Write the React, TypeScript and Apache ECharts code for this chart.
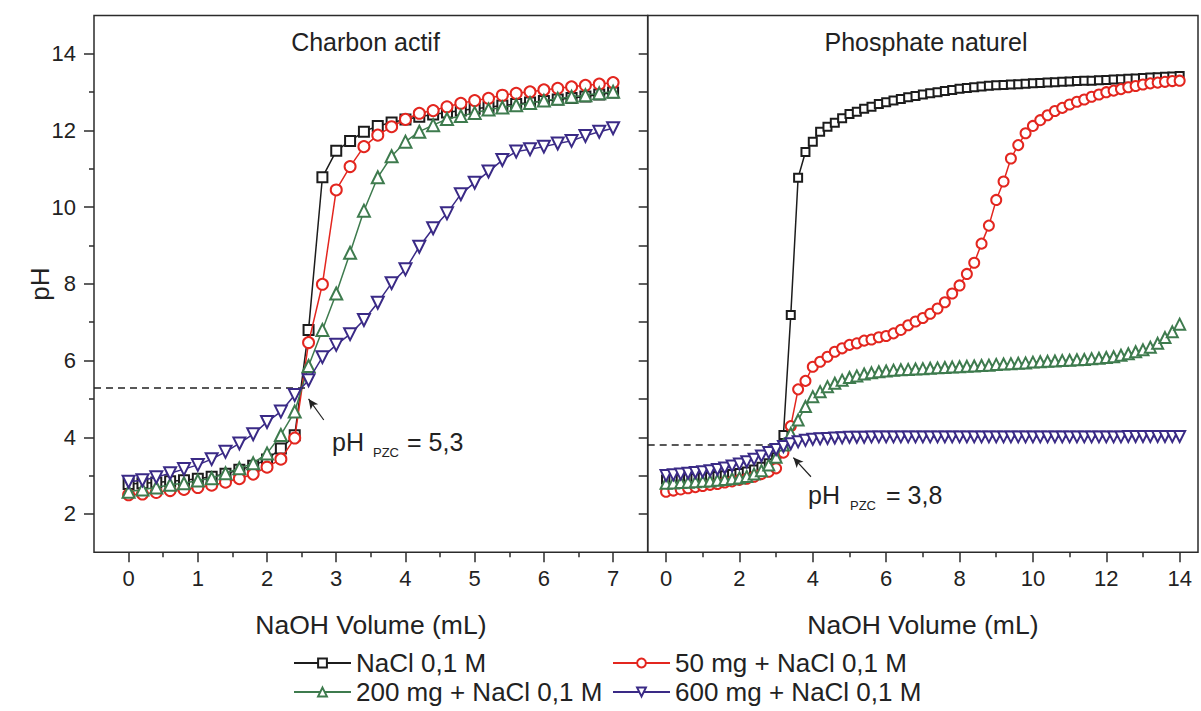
import React, { useEffect, useRef } from "react";
import * as echarts from "echarts";

// ---------- data ----------
const leftVolume = [0, 0.2, 0.4, 0.6, 0.8, 1, 1.2, 1.4, 1.6, 1.8, 2, 2.2, 2.4, 2.6, 2.8, 3, 3.2, 3.4, 3.6, 3.8, 4, 4.2, 4.4, 4.6, 4.8, 5, 5.2, 5.4, 5.6, 5.8, 6, 6.2, 6.4, 6.6, 6.8, 7];

const leftNaCl = [2.78, 2.80, 2.82, 2.85, 2.88, 2.92, 2.97, 3.05, 3.15, 3.26, 3.42, 3.71, 4.05, 6.80, 10.78, 11.47, 11.73, 11.97, 12.12, 12.21, 12.29, 12.36, 12.42, 12.47, 12.52, 12.57, 12.61, 12.65, 12.69, 12.73, 12.77, 12.81, 12.85, 12.89, 12.94, 12.99];
const left50mg = [2.50, 2.52, 2.56, 2.61, 2.64, 2.69, 2.75, 2.83, 2.92, 3.04, 3.22, 3.43, 3.98, 6.47, 7.99, 10.45, 11.06, 11.58, 11.88, 12.10, 12.29, 12.45, 12.52, 12.62, 12.71, 12.78, 12.84, 12.92, 12.97, 13.01, 13.06, 13.10, 13.14, 13.18, 13.21, 13.25];
const left200mg = [2.58, 2.64, 2.69, 2.76, 2.80, 2.87, 2.93, 3.06, 3.19, 3.32, 3.58, 4.06, 4.67, 5.86, 6.80, 7.75, 8.81, 9.91, 10.78, 11.33, 11.71, 11.97, 12.14, 12.30, 12.38, 12.46, 12.55, 12.60, 12.66, 12.72, 12.78, 12.83, 12.88, 12.92, 12.97, 13.01];
const left600mg = [2.84, 2.88, 2.96, 3.06, 3.17, 3.28, 3.43, 3.62, 3.84, 4.08, 4.40, 4.67, 5.10, 5.49, 6.09, 6.41, 6.69, 7.06, 7.51, 8.02, 8.38, 8.97, 9.45, 9.84, 10.34, 10.64, 10.93, 11.23, 11.45, 11.51, 11.58, 11.66, 11.73, 11.86, 11.97, 12.06];

const rightVolume = [0, 0.2, 0.4, 0.6, 0.8, 1, 1.2, 1.4, 1.6, 1.8, 2, 2.2, 2.4, 2.6, 2.8, 3, 3.2, 3.4, 3.6, 3.8, 4, 4.2, 4.4, 4.6, 4.8, 5, 5.2, 5.4, 5.6, 5.8, 6, 6.2, 6.4, 6.6, 6.8, 7, 7.2, 7.4, 7.6, 7.8, 8, 8.2, 8.4, 8.6, 8.8, 9, 9.2, 9.4, 9.6, 9.8, 10, 10.2, 10.4, 10.6, 10.8, 11, 11.2, 11.4, 11.6, 11.8, 12, 12.2, 12.4, 12.6, 12.8, 13, 13.2, 13.4, 13.6, 13.8, 14];

const rightNaCl = [2.90, 2.91, 2.92, 2.93, 2.94, 2.96, 2.97, 2.99, 3.01, 3.04, 3.07, 3.11, 3.16, 3.23, 3.32, 3.48, 4.06, 7.19, 10.77, 11.44, 11.71, 11.97, 12.10, 12.20, 12.32, 12.43, 12.49, 12.57, 12.62, 12.69, 12.74, 12.78, 12.82, 12.87, 12.90, 12.94, 12.97, 13.00, 13.03, 13.06, 13.09, 13.11, 13.13, 13.15, 13.17, 13.18, 13.19, 13.20, 13.21, 13.22, 13.23, 13.24, 13.25, 13.26, 13.27, 13.28, 13.29, 13.30, 13.30, 13.31, 13.32, 13.33, 13.34, 13.35, 13.36, 13.37, 13.38, 13.39, 13.40, 13.41, 13.42];
const right50mg = [2.58, 2.61, 2.64, 2.67, 2.70, 2.73, 2.76, 2.78, 2.82, 2.85, 2.89, 2.92, 2.97, 3.04, 3.10, 3.19, 3.60, 4.29, 5.25, 5.47, 5.84, 5.97, 6.10, 6.23, 6.32, 6.41, 6.45, 6.52, 6.55, 6.61, 6.64, 6.71, 6.80, 6.92, 7.02, 7.11, 7.22, 7.36, 7.52, 7.75, 7.96, 8.26, 8.55, 9.05, 9.52, 10.19, 10.67, 11.27, 11.62, 11.93, 12.12, 12.27, 12.40, 12.51, 12.59, 12.68, 12.75, 12.81, 12.88, 12.94, 13.00, 13.04, 13.08, 13.13, 13.16, 13.20, 13.23, 13.25, 13.27, 13.29, 13.30];
const right200mg = [2.80, 2.81, 2.82, 2.83, 2.84, 2.85, 2.86, 2.88, 2.90, 2.92, 2.94, 2.98, 3.04, 3.13, 3.28, 3.48, 3.80, 4.10, 4.45, 4.80, 5.06, 5.19, 5.32, 5.41, 5.49, 5.56, 5.60, 5.65, 5.68, 5.71, 5.73, 5.75, 5.76, 5.77, 5.78, 5.79, 5.80, 5.81, 5.82, 5.83, 5.84, 5.85, 5.86, 5.87, 5.88, 5.90, 5.91, 5.92, 5.93, 5.94, 5.96, 5.97, 5.98, 5.99, 6.00, 6.01, 6.02, 6.03, 6.05, 6.06, 6.08, 6.10, 6.14, 6.18, 6.23, 6.28, 6.35, 6.45, 6.60, 6.75, 6.95];
const right600mg = [3.00, 3.02, 3.04, 3.06, 3.08, 3.10, 3.13, 3.16, 3.20, 3.25, 3.30, 3.36, 3.43, 3.51, 3.60, 3.68, 3.76, 3.83, 3.88, 3.92, 3.95, 3.96, 3.97, 3.98, 3.99, 4.00, 4.00, 4.00, 4.01, 4.01, 4.01, 4.01, 4.01, 4.01, 4.01, 4.01, 4.01, 4.01, 4.01, 4.01, 4.01, 4.01, 4.01, 4.01, 4.01, 4.01, 4.01, 4.01, 4.01, 4.01, 4.01, 4.01, 4.01, 4.01, 4.01, 4.01, 4.01, 4.01, 4.01, 4.01, 4.01, 4.01, 4.01, 4.02, 4.02, 4.02, 4.02, 4.02, 4.02, 4.02, 4.02];

const seriesNames = ["NaCl 0,1 M", "50 mg + NaCl 0,1 M", "200 mg + NaCl 0,1 M", "600 mg + NaCl 0,1 M"];
const panelTitles = ["Charbon actif", "Phosphate naturel"];
const xAxisTitle = "NaOH Volume (mL)";
const yAxisTitle = "pH";

// tick values
const leftXMajor = [0, 1, 2, 3, 4, 5, 6, 7];
const leftXMinor = [0.5, 1.5, 2.5, 3.5, 4.5, 5.5, 6.5];
const rightXMajor = [0, 2, 4, 6, 8, 10, 12, 14];
const rightXMinor = [1, 3, 5, 7, 9, 11, 13];
const yMajor = [2, 4, 6, 8, 10, 12, 14];
const yMinor = [3, 5, 7, 9, 11, 13];
const yAll = [2, 3, 4, 5, 6, 7, 8, 9, 10, 11, 12, 13, 14];

// point of zero charge annotations
const pzcLeft = 5.3;
const pzcRight = 3.8;

// ---------- style ----------
const FONT = "'Liberation Sans', Arial, Helvetica, sans-serif";
const INK = "#222222";
const AXIS = "#2b2b2b";
const COLORS = ["#1c1c1c", "#e3261f", "#3e7b4e", "#3a2a86"];
const SYMBOLS = ["rect", "circle", "triangle", "triangle"];
const ROTATE = [0, 0, 0, 180];
const LEFT_SIZE = [10, 11, 12, 12];
const RIGHT_SIZE = [8, 10, 11, 11];

const pair = (xs: number[], ys: number[]) => xs.map((x, i) => [x, ys[i]]);

function lineSeries(idx: number, xs: number[], ys: number[], xIdx: number, yIdx: number, sizes: number[]) {
  const color = COLORS[idx];
  return {
    type: "line",
    name: seriesNames[idx],
    xAxisIndex: xIdx,
    yAxisIndex: yIdx,
    data: pair(xs, ys),
    symbol: SYMBOLS[idx],
    symbolSize: sizes[idx],
    symbolRotate: ROTATE[idx],
    showSymbol: true,
    showAllSymbol: true,
    color,
    lineStyle: { color, width: 1.5 },
    itemStyle: { color: "#ffffff", borderColor: color, borderWidth: 2 },
    emphasis: { disabled: true },
    z: 2 + idx,
  };
}

function annotationSeries(xIdx: number, yIdx: number, pzc: number, dashEnd: number, arrowFrom: number[], arrowTo: number[]) {
  return {
    type: "line",
    name: "annot" + xIdx,
    xAxisIndex: xIdx,
    yAxisIndex: yIdx,
    data: [],
    silent: true,
    markLine: {
      silent: true,
      animation: false,
      label: { show: false },
      symbol: ["none", "none"],
      data: [
        [
          { coord: [-0.5, pzc], lineStyle: { type: [7, 5], color: "#222", width: 1.5 } },
          { coord: [dashEnd, pzc] },
        ],
        [
          { coord: arrowFrom, symbol: "none", lineStyle: { type: "solid", color: "#222", width: 1.2 } },
          { coord: arrowTo, symbol: "arrow", symbolSize: [7, 10] },
        ],
      ],
    },
  };
}

function xAxes(gridIndex: number, min: number, max: number, major: number[], minor: number[]) {
  return [
    {
      type: "value",
      gridIndex,
      min,
      max,
      position: "bottom",
      name: xAxisTitle,
      nameLocation: "middle",
      nameGap: 59,
      nameTextStyle: { fontSize: 26.5, color: INK, fontFamily: FONT },
      axisLine: { show: false, onZero: false },
      axisTick: { show: true, inside: false, length: 10, customValues: major, lineStyle: { color: AXIS, width: 1.5 } },
      axisLabel: { show: true, margin: 15, customValues: major, fontSize: 22, color: INK, fontFamily: FONT },
      splitLine: { show: false },
    },
    {
      type: "value",
      gridIndex,
      min,
      max,
      position: "bottom",
      offset: 0,
      axisLine: { show: false, onZero: false },
      axisTick: { show: true, inside: false, length: 5, customValues: minor, lineStyle: { color: AXIS, width: 1.5 } },
      axisLabel: { show: false },
      splitLine: { show: false },
    },
  ];
}

function buildOption() {
  const legendCommon = {
    itemWidth: 57,
    itemHeight: 11,
    itemGap: 0,
    padding: 0,
    selectedMode: false,
    textStyle: { fontSize: 26, color: INK, fontFamily: FONT, lineHeight: 28 },
  };
  return {
    animation: false,
    backgroundColor: "#ffffff",
    grid: [
      { left: 94, top: 15.5, width: 553.7, height: 536.8, show: true, borderColor: AXIS, borderWidth: 1.5, backgroundColor: "transparent" },
      { left: 647.7, top: 15.5, width: 550.3, height: 536.8, show: true, borderColor: AXIS, borderWidth: 1.5, backgroundColor: "transparent" },
    ],
    xAxis: [
      ...xAxes(0, -0.5, 7.5, leftXMajor, leftXMinor),
      ...xAxes(1, -0.5, 14.5, rightXMajor, rightXMinor),
    ],
    yAxis: [
      {
        type: "value",
        gridIndex: 0,
        min: 1,
        max: 15,
        position: "left",
        axisLine: { show: false, onZero: false },
        axisTick: { show: true, length: 10, customValues: yMajor, lineStyle: { color: AXIS, width: 1.5 } },
        axisLabel: { show: true, margin: 18, customValues: yMajor, fontSize: 22, color: INK, fontFamily: FONT },
        splitLine: { show: false },
      },
      {
        type: "value",
        gridIndex: 1,
        min: 1,
        max: 15,
        position: "left",
        axisLine: { show: false, onZero: false },
        axisTick: { show: true, length: 9, customValues: yAll, lineStyle: { color: AXIS, width: 1.5 } },
        axisLabel: { show: false },
        splitLine: { show: false },
      },
      {
        type: "value",
        gridIndex: 0,
        min: 1,
        max: 15,
        position: "left",
        offset: 0,
        axisLine: { show: false, onZero: false },
        axisTick: { show: true, length: 5, customValues: yMinor, lineStyle: { color: AXIS, width: 1.5 } },
        axisLabel: { show: false },
        splitLine: { show: false },
      },
    ],
    legend: [
      { ...legendCommon, left: 293, top: 649, data: [seriesNames[0]] },
      { ...legendCommon, left: 612, top: 649, data: [seriesNames[1]] },
      { ...legendCommon, left: 293, top: 678, data: [seriesNames[2]] },
      { ...legendCommon, left: 612, top: 678, data: [seriesNames[3]] },
    ],
    series: [
      lineSeries(0, leftVolume, leftNaCl, 0, 0, LEFT_SIZE),
      lineSeries(1, leftVolume, left50mg, 0, 0, LEFT_SIZE),
      lineSeries(2, leftVolume, left200mg, 0, 0, LEFT_SIZE),
      lineSeries(3, leftVolume, left600mg, 0, 0, LEFT_SIZE),
      lineSeries(0, rightVolume, rightNaCl, 2, 1, RIGHT_SIZE),
      lineSeries(1, rightVolume, right50mg, 2, 1, RIGHT_SIZE),
      lineSeries(2, rightVolume, right200mg, 2, 1, RIGHT_SIZE),
      lineSeries(3, rightVolume, right600mg, 2, 1, RIGHT_SIZE),
      annotationSeries(0, 0, pzcLeft, 2.55, [2.82, 4.45], [2.6, 5.0]),
      annotationSeries(2, 1, pzcRight, 3.45, [3.95, 2.97], [3.47, 3.47]),
    ],
    graphic: [
      { type: "text", x: 365.5, y: 42, style: { text: panelTitles[0], font: `25px ${FONT}`, fill: INK, align: "center", verticalAlign: "middle" } },
      { type: "text", x: 926, y: 42, style: { text: panelTitles[1], font: `25px ${FONT}`, fill: INK, align: "center", verticalAlign: "middle" } },
      { type: "text", x: 40, y: 284, rotation: Math.PI / 2, style: { text: yAxisTitle, font: `26px ${FONT}`, fill: INK, align: "center", verticalAlign: "middle" } },
      { type: "text", x: 332, y: 442, style: { text: "pH", font: `25px ${FONT}`, fill: INK, align: "left", verticalAlign: "middle" } },
      { type: "text", x: 373, y: 452, style: { text: "PZC", font: `13px ${FONT}`, fill: INK, align: "left", verticalAlign: "middle" } },
      { type: "text", x: 407, y: 442, style: { text: "= 5,3", font: `25px ${FONT}`, fill: INK, align: "left", verticalAlign: "middle" } },
      { type: "text", x: 808, y: 495, style: { text: "pH", font: `25px ${FONT}`, fill: INK, align: "left", verticalAlign: "middle" } },
      { type: "text", x: 850, y: 505, style: { text: "PZC", font: `13px ${FONT}`, fill: INK, align: "left", verticalAlign: "middle" } },
      { type: "text", x: 886, y: 495, style: { text: "= 3,8", font: `25px ${FONT}`, fill: INK, align: "left", verticalAlign: "middle" } },
    ],
  };
}

export default function App() {
  const ref = useRef<HTMLDivElement>(null);
  useEffect(() => {
    if (!ref.current) return;
    const chart = echarts.init(ref.current, null, { renderer: "svg" });
    chart.setOption(buildOption() as any);
    return () => chart.dispose();
  }, []);
  return (
    <div
      ref={ref}
      style={{ position: "fixed", left: 0, top: 0, width: 1201, height: 711, background: "#ffffff" }}
    />
  );
}
